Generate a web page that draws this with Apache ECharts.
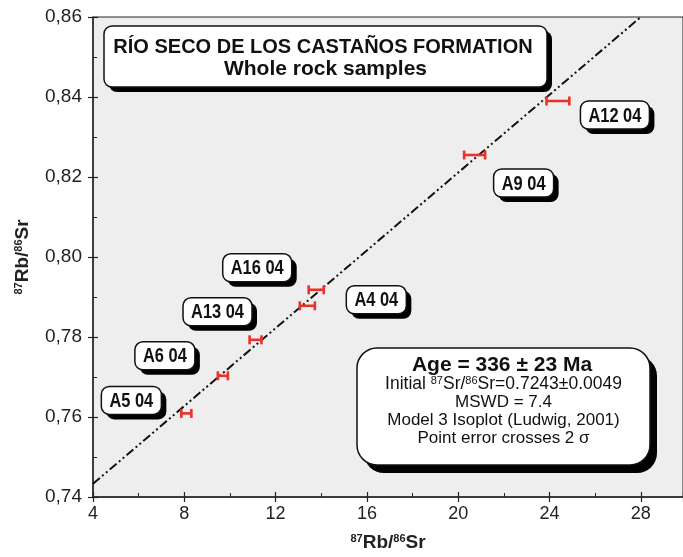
<!DOCTYPE html>
<html>
<head>
<meta charset="utf-8">
<script src="https://cdn.jsdelivr.net/npm/echarts@6/dist/echarts.min.js"></script>
<style>
html,body{margin:0;padding:0;background:#fff;}
#chart{width:683px;height:557px;}
</style>
</head>
<body>
<div id="chart"></div>
<script>
// ---- data ----
const sampleNames = ['A5 04', 'A6 04', 'A13 04', 'A4 04', 'A16 04', 'A9 04', 'A12 04'];
const rbSr = [8.09, 9.69, 11.12, 13.39, 13.78, 20.72, 24.37];      // 87Rb/86Sr
const srSr = [0.7609, 0.7703, 0.7793, 0.7878, 0.7918, 0.8255, 0.8390]; // y values
const rbSrErr = [0.22, 0.22, 0.26, 0.33, 0.33, 0.46, 0.50];        // 2 sigma half-width
const isochronX = [4, 28.0];
const isochronY = [0.7433, 0.86];
const xTicks = [4, 8, 12, 16, 20, 24, 28];
const yTicks = ['0,74', '0,76', '0,78', '0,80', '0,82', '0,84', '0,86'];

// ---- layout / style (label offsets in pixels from each point) ----
const labelOffsets = {
  'A5 04': [-55, -13], 'A6 04': [-58, -20], 'A13 04': [-38, -28],
  'A4 04': [69, -6], 'A16 04': [-59, -22], 'A9 04': [49, 28], 'A12 04': [57, 14]
};
const TXT = '#222';
const SANS = "'Liberation Sans', Arial, Helvetica, sans-serif";
const LABEL_FONT = 'bold 20px ' + SANS;
const NARROW_SCALE = 0.82;

const measureCtx = document.createElement('canvas').getContext('2d');
function textWidth(t, font) { measureCtx.font = font; return measureCtx.measureText(t).width; }

const chart = echarts.init(document.getElementById('chart'), null, {renderer: 'canvas'});

const errData = rbSr.map((x, i) => [x, srSr[i], rbSrErr[i]]);
const labelData = rbSr.map((x, i) => [x, srSr[i], i]);
const isoData = isochronX.map((x, i) => [x, isochronY[i]]);

const supRich = {
  sup: {fontSize: 11, fontWeight: 'bold', verticalAlign: 'top', padding: [0, 0, 8, 0], color: TXT, fontFamily: SANS},
  b: {fontSize: 19, fontWeight: 'bold', color: TXT, fontFamily: SANS}
};

const xMin = xTicks[0], yMin = 0.74, yMax = 0.86;

const option = {
  animation: false,
  backgroundColor: '#ffffff',
  grid: {left: 93, top: 17, right: -2, bottom: 60, show: true, backgroundColor: '#eeeeee',
         borderColor: '#222', borderWidth: 1},
  xAxis: [{
    type: 'value', min: xMin, max: 29.85, interval: 4,
    name: '{sup|87}{b|Rb/}{sup|86}{b|Sr}', nameLocation: 'middle', nameGap: 36,
    nameTextStyle: {rich: supRich},
    axisLine: {lineStyle: {color: '#222', width: 1.5}},
    axisTick: {inside: true, length: 5, lineStyle: {color: '#222', width: 1.2}},
    minorTick: {show: true, splitNumber: 2, length: 4, lineStyle: {color: '#222', width: 1}},
    splitLine: {show: false},
    axisLabel: {showMaxLabel: false, color: TXT, fontSize: 18, fontFamily: SANS, margin: 8,
      formatter: v => (xTicks.indexOf(v) >= 0 ? String(v) : '')}
  }, {
    type: 'value', min: xMin, max: 29.85, interval: 4, position: 'bottom', gridIndex: 0,
    axisLine: {show: false}, axisLabel: {show: false}, splitLine: {show: false},
    axisTick: {inside: false, length: 5, lineStyle: {color: '#222', width: 1.2}}
  }],
  yAxis: [{
    type: 'value', min: yMin, max: yMax, interval: 0.02,
    name: '{sup|87}{b|Rb/}{sup|86}{b|Sr}', nameLocation: 'middle', nameGap: 61, nameRotate: 90,
    nameTextStyle: {rich: supRich},
    axisLine: {lineStyle: {color: '#222', width: 1.5}},
    axisTick: {inside: true, length: 5, lineStyle: {color: '#222', width: 1.2}},
    minorTick: {show: true, splitNumber: 2, length: 4, lineStyle: {color: '#222', width: 1}},
    splitLine: {show: false},
    axisLabel: {color: TXT, fontSize: 19, fontFamily: SANS, margin: 11,
      formatter: v => yTicks[Math.round((v - yMin) / 0.02)] || ''}
  }, {
    type: 'value', min: yMin, max: yMax, interval: 0.02, position: 'left', gridIndex: 0,
    axisLine: {show: false}, axisLabel: {show: false}, splitLine: {show: false},
    axisTick: {inside: false, length: 5, lineStyle: {color: '#222', width: 1.2}}
  }],
  series: [{
    type: 'line', data: isoData, symbol: 'none', z: 2,
    lineStyle: {color: '#111', width: 2, type: [9, 3, 2, 3, 2, 3]}
  }, {
    type: 'custom', data: errData, z: 3,
    renderItem: function (params, api) {
      const x = api.value(0), y = api.value(1), e = api.value(2);
      const p1 = api.coord([x - e, y]), p2 = api.coord([x + e, y]);
      const h = 4.5;
      const st = {stroke: '#e8322c', lineWidth: 2.6};
      return {type: 'group', children: [
        {type: 'line', shape: {x1: p1[0], y1: p1[1], x2: p2[0], y2: p2[1]}, style: st},
        {type: 'line', shape: {x1: p1[0], y1: p1[1] - h, x2: p1[0], y2: p1[1] + h}, style: st},
        {type: 'line', shape: {x1: p2[0], y1: p2[1] - h, x2: p2[0], y2: p2[1] + h}, style: st}
      ]};
    }
  }, {
    type: 'custom', data: labelData, z: 5, silent: true,
    renderItem: function (params, api) {
      const p = api.coord([api.value(0), api.value(1)]);
      const name = sampleNames[api.value(2)];
      const off = labelOffsets[name];
      const cx = p[0] + off[0], cy = p[1] + off[1];
      const w = Math.round(textWidth(name, LABEL_FONT) * NARROW_SCALE + 16);
      const h = 28;
      const x0 = cx - w / 2, y0 = cy - h / 2;
      return {type: 'group', children: [
        {type: 'rect', shape: {x: x0 + 5, y: y0 + 5, width: w, height: h, r: 8}, style: {fill: '#000'}},
        {type: 'rect', shape: {x: x0, y: y0, width: w, height: h, r: 8},
          style: {fill: '#fff', stroke: '#111', lineWidth: 1.5}},
        {type: 'text', x: cx, y: cy + 1, scaleX: NARROW_SCALE,
          style: {x: 0, y: 0, text: name, align: 'center', verticalAlign: 'middle', fill: '#111', font: LABEL_FONT}}
      ]};
    }
  }],
  graphic: [
    // title box
    {type: 'rect', z: 10, shape: {x: 109, y: 31, width: 443, height: 61, r: 8}, style: {fill: '#000'}},
    {type: 'rect', z: 11, shape: {x: 104, y: 26, width: 443, height: 61, r: 8},
      style: {fill: '#fff', stroke: '#111', lineWidth: 1.5}},
    {type: 'text', z: 12, style: {x: 323, y: 47, text: 'RÍO SECO DE LOS CASTAÑOS FORMATION',
      align: 'center', verticalAlign: 'middle', fill: '#111', font: 'bold 20px ' + SANS}},
    {type: 'text', z: 12, style: {x: 325.5, y: 69, text: 'Whole rock samples',
      align: 'center', verticalAlign: 'middle', fill: '#111', font: 'bold 21px ' + SANS}},
    // info box
    {type: 'rect', z: 10, shape: {x: 364, y: 356, width: 293, height: 117, r: 20}, style: {fill: '#000'}},
    {type: 'rect', z: 11, shape: {x: 357, y: 348, width: 293, height: 117, r: 20},
      style: {fill: '#fff', stroke: '#111', lineWidth: 1.5}},
    {type: 'text', z: 12, style: {x: 502, y: 365, text: 'Age = 336 ± 23 Ma',
      align: 'center', verticalAlign: 'middle', fill: '#111', font: 'bold 21px ' + SANS}},
    {type: 'text', z: 12, style: {x: 503.5, y: 384,
      text: 'Initial {s|87}Sr/{s|86}Sr=0.7243±0.0049',
      align: 'center', verticalAlign: 'middle', fill: '#111', font: '17.5px ' + SANS,
      rich: {s: {fontSize: 11, verticalAlign: 'top', padding: [0, 0, 6, 0], fill: '#111', fontFamily: SANS}}}},
    {type: 'text', z: 12, style: {x: 503.5, y: 402, text: 'MSWD = 7.4',
      align: 'center', verticalAlign: 'middle', fill: '#111', font: '17px ' + SANS}},
    {type: 'text', z: 12, style: {x: 503.5, y: 420, text: 'Model 3 Isoplot (Ludwig, 2001)',
      align: 'center', verticalAlign: 'middle', fill: '#111', font: '17px ' + SANS}},
    {type: 'text', z: 12, style: {x: 503.5, y: 438, text: 'Point error crosses 2 σ',
      align: 'center', verticalAlign: 'middle', fill: '#111', font: '17px ' + SANS}}
  ]
};
chart.setOption(option);
</script>
</body>
</html>
